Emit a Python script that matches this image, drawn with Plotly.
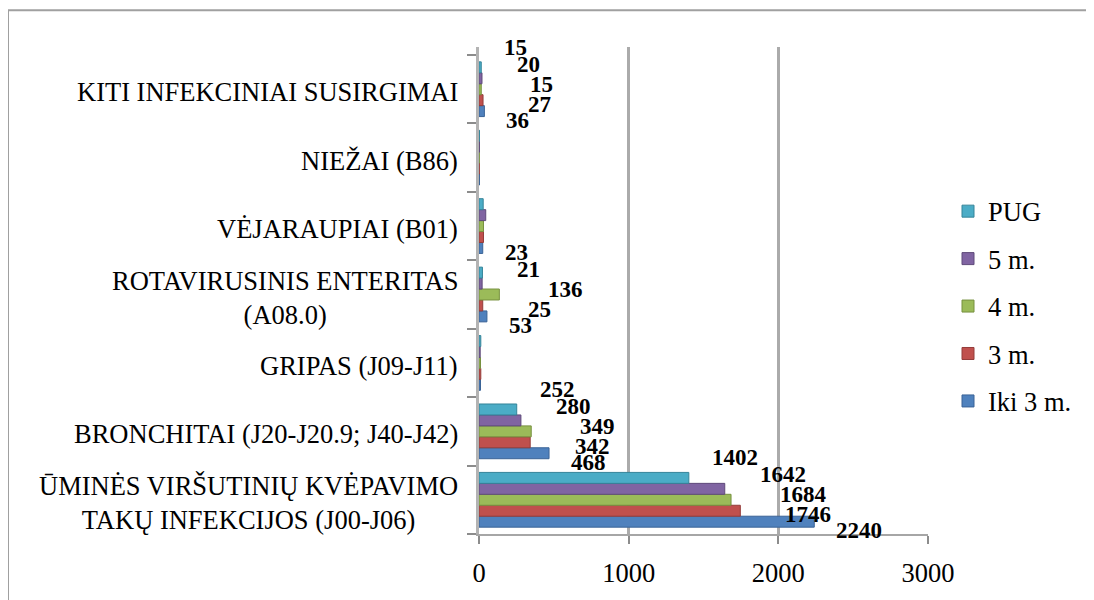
import plotly.graph_objects as go

# ---- data (bottom category first) ----
CATEGORIES = [
    "ŪMINĖS VIRŠUTINIŲ KVĖPAVIMO<br>TAKŲ INFEKCIJOS (J00-J06)",
    "BRONCHITAI (J20-J20.9; J40-J42)",
    "GRIPAS (J09-J11)",
    "ROTAVIRUSINIS ENTERITAS<br>(A08.0)",
    "VĖJARAUPIAI (B01)",
    "NIEŽAI (B86)",
    "KITI INFEKCINIAI SUSIRGIMAI",
]
SERIES = ["Iki 3 m.", "3 m.", "4 m.", "5 m.", "PUG"]
iki_3m = [2240, 468, 10, 53, 25, 3, 36]
m3 = [1746, 342, 12, 25, 30, 2, 27]
m4 = [1684, 349, 10, 136, 30, 2, 15]
m5 = [1642, 280, 8, 21, 45, 3, 20]
pug = [1402, 252, 12, 23, 28, 3, 15]
VALUES = [iki_3m, m3, m4, m5, pug]
LABELED_CATEGORIES = [CATEGORIES[0], CATEGORIES[1], CATEGORIES[3], CATEGORIES[6]]
X_TICKS = [0, 1000, 2000, 3000]

# ---- style ----
COLORS = ["#4F81BD", "#C0504D", "#9BBB59", "#8064A2", "#4BACC6"]
EDGES = ["#3A6396", "#943C3A", "#77913F", "#5F4A7A", "#358499"]
LABEL_DX = [20, 43, 47, 33, 21]
LABEL_DY = [-31, -15, 5, 25, 42]
FONT = "Liberation Serif"
GRID = "#ABABAB"

# page body adds an 8px offset; compensate
OFF = 8
W, H = 1094 - OFF, 600 - OFF
L = 479 - OFF
T = 47 - OFF
PLOT_BOTTOM = 536 - OFF
PLOT_RIGHT = 937 - OFF
R = W - PLOT_RIGHT
B = H - PLOT_BOTTOM
plot_w = PLOT_RIGHT - L
plot_h = PLOT_BOTTOM - T
shift = 9

fig = go.Figure()
for i, (name, vals) in enumerate(zip(SERIES, VALUES)):
    fig.add_trace(go.Bar(
        x=vals, y=CATEGORIES, orientation="h", name=name,
        legendgroup=name, legendrank=len(SERIES) - i,
        marker=dict(color=COLORS[i], line=dict(color=EDGES[i], width=1)),
        hoverinfo="x+name",
    ))

# dummy trace for back-wall grid axis
fig.add_trace(go.Scatter(x=[], y=[], xaxis="x2", yaxis="y", showlegend=False))

annotations = []
for ci, cat in enumerate(CATEGORIES):
    annotations.append(dict(
        x=0, xref="paper", y=cat, yref="y", xanchor="right", yanchor="middle",
        xshift=-19, yshift=-3, text=cat, align="center", showarrow=False,
        font=dict(family=FONT, size=26.5, color="black"),
    ))
for i, vals in enumerate(VALUES):
    for ci, cat in enumerate(CATEGORIES):
        if cat not in LABELED_CATEGORIES:
            continue
        annotations.append(dict(
            x=vals[ci], xref="x", y=cat, yref="y", xanchor="left", yanchor="middle",
            xshift=LABEL_DX[i], yshift=LABEL_DY[i], text=f"<b>{vals[ci]}</b>",
            showarrow=False, font=dict(family=FONT, size=23, color="black"),
        ))

fig.update_layout(
    width=W, height=H,
    margin=dict(l=L, r=R, t=T, b=B),
    paper_bgcolor="white", plot_bgcolor="white",
    barmode="group", bargap=0.2, bargroupgap=0,
    font=dict(family=FONT, size=26, color="black"),
    showlegend=True,
    legend=dict(
        x=(948 - OFF - L) / plot_w, y=(PLOT_BOTTOM - (188 - OFF)) / plot_h,
        xanchor="left", yanchor="top",
        traceorder="grouped", tracegroupgap=10,
        font=dict(family=FONT, size=26.5, color="black"),
        bgcolor="rgba(0,0,0,0)",
    ),
    xaxis=dict(
        domain=[0, (plot_w - shift) / plot_w], range=[0, 3000],
        tickvals=X_TICKS, ticktext=[str(t) for t in X_TICKS],
        showgrid=False, zeroline=False,
        showline=True, linecolor="#A6A6A6", linewidth=2,
        ticks="outside", ticklen=8, tickcolor="#8C8C8C", tickwidth=1.5,
        ticklabelstandoff=6,
        tickfont=dict(family=FONT, size=26.5, color="black"),
        anchor="y",
    ),
    xaxis2=dict(
        domain=[shift / plot_w, 1], range=[0, 3000], overlaying="x",
        tickvals=X_TICKS, showticklabels=False, ticks="",
        showgrid=True, gridcolor=GRID, gridwidth=2.5, zeroline=False,
        showline=False, anchor="y",
    ),
    yaxis=dict(
        type="category", categoryorder="array", categoryarray=CATEGORIES,
        range=[-0.5, 6.617], showticklabels=False,
        showgrid=False, zeroline=False,
        showline=True, linecolor="#B3B3B3", linewidth=3,
        ticks="outside", tickson="boundaries", ticklen=9,
        tickcolor="#8C8C8C", tickwidth=1.5,
    ),
    annotations=annotations,
    shapes=[dict(
        type="rect", xref="paper", yref="paper",
        x0=(8 - OFF - L) / plot_w, x1=(1110 - OFF - L) / plot_w,
        y0=(PLOT_BOTTOM - (610 - OFF)) / plot_h, y1=(PLOT_BOTTOM - (10 - OFF)) / plot_h,
        line=dict(color="#A0A0A0", width=2), fillcolor="rgba(0,0,0,0)",
        layer="below",
    )],
)

fig.write_html("out.html")
